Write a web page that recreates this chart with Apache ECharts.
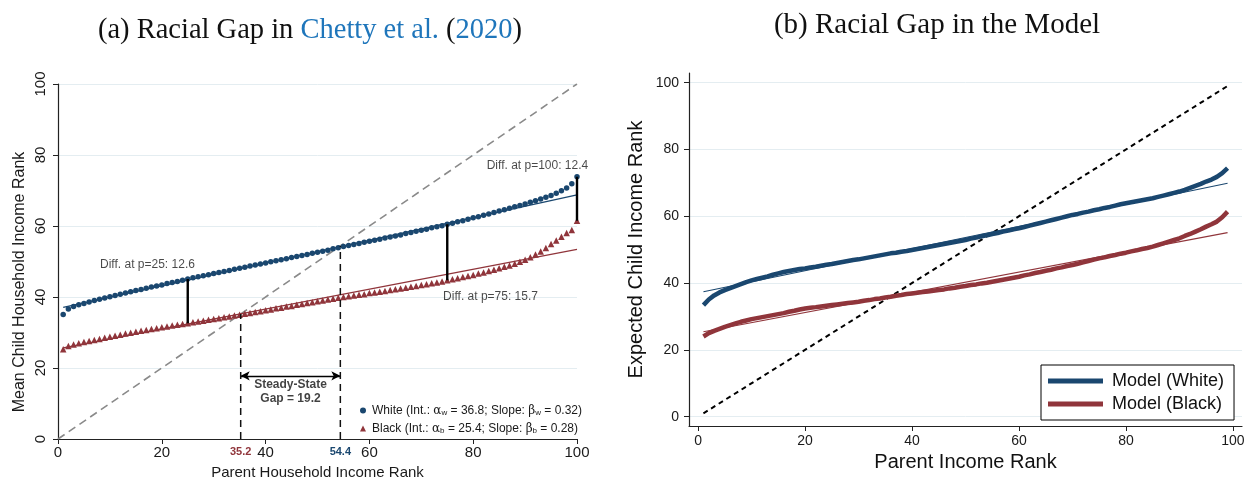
<!DOCTYPE html>
<html><head><meta charset="utf-8">
<script src="https://cdn.jsdelivr.net/npm/echarts@6/dist/echarts.min.js"></script>
<style>html,body{margin:0;padding:0;background:#fff}#c{width:1245px;height:480px}</style>
</head><body><div id="c"></div>
<script>
// ---------- Panel (a): Chetty et al. (2020) ----------
const parentRankA = [1,2,3,4,5,6,7,8,9,10,11,12,13,14,15,16,17,18,19,20,21,22,23,24,25,26,27,28,29,30,31,32,33,34,35,36,37,38,39,40,41,42,43,44,45,46,47,48,49,50,51,52,53,54,55,56,57,58,59,60,61,62,63,64,65,66,67,68,69,70,71,72,73,74,75,76,77,78,79,80,81,82,83,84,85,86,87,88,89,90,91,92,93,94,95,96,97,98,99,100];
const whiteA = [35.1,36.6,37.3,37.8,38.2,38.6,39.0,39.4,39.7,40.1,40.4,40.8,41.1,41.5,41.8,42.1,42.5,42.8,43.1,43.4,43.8,44.1,44.4,44.7,45.1,45.4,45.7,46.0,46.3,46.6,46.9,47.2,47.5,47.8,48.1,48.4,48.7,49.0,49.3,49.6,49.9,50.2,50.5,50.8,51.1,51.4,51.7,52.0,52.3,52.6,52.9,53.2,53.6,53.9,54.2,54.5,54.8,55.1,55.4,55.7,56.0,56.3,56.6,56.9,57.2,57.5,57.9,58.2,58.5,58.8,59.1,59.5,59.8,60.1,60.5,60.8,61.2,61.5,61.9,62.3,62.6,63.0,63.4,63.8,64.2,64.6,65.0,65.4,65.8,66.2,66.7,67.1,67.6,68.1,68.6,69.2,69.9,70.7,71.9,73.9];
const blackA = [25.3,26.2,26.6,27.0,27.3,27.6,27.9,28.2,28.5,28.8,29.1,29.4,29.7,29.9,30.2,30.5,30.7,31.0,31.2,31.5,31.7,32.0,32.2,32.4,32.6,32.9,33.1,33.3,33.6,33.8,34.0,34.3,34.5,34.8,35.0,35.3,35.5,35.8,36.0,36.3,36.5,36.8,37.0,37.3,37.5,37.8,38.0,38.3,38.5,38.8,39.0,39.3,39.5,39.8,40.0,40.2,40.4,40.6,40.8,41.1,41.3,41.5,41.7,42.0,42.2,42.4,42.6,42.9,43.1,43.4,43.6,43.9,44.1,44.4,44.7,45.0,45.3,45.6,45.9,46.2,46.6,46.9,47.3,47.7,48.1,48.5,48.9,49.4,49.9,50.5,51.2,52.0,52.8,53.8,54.9,55.9,57.0,58.0,58.9,61.5];
const interceptA = [36.8, 25.4];
const slopeA = [0.32, 0.28];
const fitWhiteA = [[1, 37.1], [100, 68.8]];
const fitBlackA = [[1, 25.7], [100, 53.4]];
const diagonalA = [[0, 0], [100, 100]];
const diffRanks = [25, 75, 100];
const diffLow = [32.6, 44.7, 61.5];
const diffHigh = [45.1, 60.5, 73.9];
const diffLabels = ['Diff. at p=25: 12.6', 'Diff. at p=75: 15.7', 'Diff. at p=100: 12.4'];
const diffLabelAt = [[8.1, 49.0], [74.2, 40.1], [82.6, 76.9]];
const steadyState = [35.2, 54.4];
const gapArrowY = 17.8;
const gapText = 'Steady-State\nGap = 19.2';
const gapTextAt = [44.8, 13.3];
const ticksA = [0, 20, 40, 60, 80, 100];

// ---------- Panel (b): Model ----------
const parentRankB = [1,2,3,4,5,6,7,8,9,10,11,12,13,14,15,16,17,18,19,20,21,22,23,24,25,26,27,28,29,30,31,32,33,34,35,36,37,38,39,40,41,42,43,44,45,46,47,48,49,50,51,52,53,54,55,56,57,58,59,60,61,62,63,64,65,66,67,68,69,70,71,72,73,74,75,76,77,78,79,80,81,82,83,84,85,86,87,88,89,90,91,92,93,94,95,96,97,98,99];
const whiteB = [33.4,35.1,36.3,37.2,37.9,38.5,39.1,39.7,40.3,40.8,41.2,41.6,42.0,42.5,42.9,43.3,43.6,43.9,44.2,44.4,44.7,44.9,45.2,45.5,45.7,46.0,46.3,46.6,46.9,47.1,47.4,47.7,48.0,48.3,48.6,48.9,49.1,49.4,49.6,49.9,50.2,50.5,50.8,51.1,51.4,51.7,52.0,52.3,52.6,52.9,53.3,53.6,54.0,54.3,54.7,55.0,55.4,55.7,56.1,56.4,56.8,57.2,57.6,58.0,58.4,58.8,59.2,59.6,60.0,60.4,60.7,61.1,61.4,61.8,62.1,62.5,62.8,63.2,63.6,63.9,64.2,64.5,64.8,65.1,65.4,65.8,66.2,66.6,67.0,67.4,67.9,68.5,69.1,69.7,70.4,71.0,71.8,72.9,74.4];
const blackB = [24.0,25.0,25.7,26.3,26.9,27.4,27.9,28.4,28.8,29.2,29.5,29.8,30.1,30.4,30.7,31.0,31.4,31.7,32.1,32.4,32.6,32.8,33.0,33.2,33.4,33.6,33.8,34.0,34.2,34.4,34.7,34.9,35.2,35.4,35.7,35.9,36.2,36.4,36.7,36.9,37.1,37.3,37.5,37.7,37.9,38.1,38.4,38.6,38.9,39.1,39.4,39.6,39.9,40.1,40.4,40.7,41.0,41.3,41.6,41.9,42.3,42.6,43.0,43.3,43.7,44.0,44.4,44.7,45.1,45.4,45.8,46.2,46.6,47.0,47.4,47.7,48.1,48.4,48.8,49.1,49.5,49.8,50.2,50.5,50.9,51.4,51.9,52.4,52.9,53.4,54.1,54.7,55.4,56.1,56.9,57.6,58.4,59.7,61.4];
const fitWhiteB = [[1, 37.4], [99, 69.9]];
const fitBlackB = [[1, 25.4], [99, 55.1]];
const diagonalB = [[1, 1], [99, 99]];
const ticksB = [0, 20, 40, 60, 80, 100];

// ---------- styling ----------
const NAVY = '#1a476f', MAROON = '#90353b', GRIDC = '#e4edf1', AXC = '#222';
const SANS = '"Liberation Sans", Arial, sans-serif';
const SERIF = '"Liberation Serif", "Times New Roman", serif';

const zip = (xs, ys) => xs.map((x, i) => [x, ys[i]]);

const series = [];
// Panel a
series.push({ type:'line', xAxisIndex:0, yAxisIndex:0, data: diagonalA, symbol:'none', silent:true,
  lineStyle:{ color:'#8a8a8a', width:1.6, type:[8,5] }, z:2 });
series.push({ type:'line', xAxisIndex:0, yAxisIndex:0, data: fitWhiteA, symbol:'none', silent:true,
  lineStyle:{ color:NAVY, width:1.3 }, z:3 });
series.push({ type:'line', xAxisIndex:0, yAxisIndex:0, data: fitBlackA, symbol:'none', silent:true,
  lineStyle:{ color:MAROON, width:1.3 }, z:3 });
series.push({ name:'White', type:'scatter', xAxisIndex:0, yAxisIndex:0, data: zip(parentRankA, whiteA),
  symbol:'circle', symbolSize:5.5, itemStyle:{ color:NAVY, opacity:1 }, z:4 });
series.push({ name:'Black', type:'scatter', xAxisIndex:0, yAxisIndex:0, data: zip(parentRankA, blackA),
  symbol:'triangle', symbolSize:6.5, itemStyle:{ color:MAROON, opacity:1 }, z:4 });
diffRanks.forEach((p, i) => {
  series.push({ type:'line', xAxisIndex:0, yAxisIndex:0, data: [[p, diffLow[i]], [p, diffHigh[i]]],
    symbol:'none', silent:true, lineStyle:{ color:'#000', width:2.4 }, z:5 });
});
steadyState.forEach(p => {
  series.push({ type:'line', xAxisIndex:0, yAxisIndex:0, data: [[p, 0], [p, p]],
    symbol:'none', silent:true, lineStyle:{ color:'#111', width:1.5, type:[7,5] }, z:5 });
});
series.push({ type:'line', xAxisIndex:0, yAxisIndex:0, data: [], symbol:'none', silent:true,
  markLine:{ silent:true, symbol:['arrow','arrow'], symbolSize:[7,9], label:{show:false},
    lineStyle:{ color:'#000', width:1.3, type:'solid' },
    data:[[{ coord:[steadyState[0], gapArrowY] }, { coord:[steadyState[1], gapArrowY] }]] }, z:5 });
series.push({ type:'scatter', xAxisIndex:0, yAxisIndex:0, symbolSize:0, silent:true,
  data: diffLabelAt.map((c, i) => ({ value:c, name:diffLabels[i] })),
  label:{ show:true, position:'right', distance:0, formatter: d => d.name,
    fontFamily:SANS, fontSize:12, color:'#1a1a1a' }, z:6 });
series.push({ type:'scatter', xAxisIndex:0, yAxisIndex:0, symbolSize:0, silent:true,
  data: [{ value: gapTextAt, name: gapText }],
  label:{ show:true, position:'inside', formatter: d => d.name, align:'center',
    fontFamily:SANS, fontSize:12, fontWeight:'bold', color:'#111', lineHeight:14 }, z:6 });

// Panel b
series.push({ type:'line', xAxisIndex:2, yAxisIndex:1, data: diagonalB, symbol:'none', silent:true,
  lineStyle:{ color:'#000', width:2, type:[5,4] }, z:2 });
series.push({ name:'Model (White)', type:'line', xAxisIndex:2, yAxisIndex:1, data: zip(parentRankB, whiteB),
  symbol:'none', lineStyle:{ color:NAVY, width:4.5 }, itemStyle:{ color:NAVY }, z:3 });
series.push({ name:'Model (Black)', type:'line', xAxisIndex:2, yAxisIndex:1, data: zip(parentRankB, blackB),
  symbol:'none', lineStyle:{ color:MAROON, width:4.5 }, itemStyle:{ color:MAROON }, z:3 });
series.push({ type:'line', xAxisIndex:2, yAxisIndex:1, data: fitWhiteB, symbol:'none', silent:true,
  lineStyle:{ color:NAVY, width:1.1 }, z:4 });
series.push({ type:'line', xAxisIndex:2, yAxisIndex:1, data: fitBlackB, symbol:'none', silent:true,
  lineStyle:{ color:MAROON, width:1.1 }, z:4 });

const legendRich = {
  s: { fontFamily:SANS, fontSize:8, color:'#1a1a1a', verticalAlign:'bottom', lineHeight:13 },
  g: { fontFamily:'"DejaVu Serif", serif', fontSize:12, color:'#1a1a1a' }
};

const option = {
  animation:false,
  backgroundColor:'#fff',
  textStyle:{ fontFamily:SANS },
  title:[
    { text:'(a) Racial Gap in {l|Chetty et al.} ({l|2020})', left:305, top:11, textAlign:'center',
      textStyle:{ fontFamily:SERIF, fontSize:28.5, fontWeight:'normal', color:'#111',
        rich:{ l:{ fontFamily:SERIF, fontSize:28.5, color:'#1f76bb' } } } },
    { text:'(b) Racial Gap in the Model', left:932, top:6, textAlign:'center',
      textStyle:{ fontFamily:SERIF, fontSize:29, fontWeight:'normal', color:'#111' } }
  ],
  graphic:[
    { type:'text', x:20, y:282, rotation:Math.PI/2,
      style:{ text:'Mean Child Household Income Rank', fontFamily:SANS, fontSize:16, fill:'#1a1a1a',
        align:'center', verticalAlign:'middle' } }
  ],
  legend:[
    { data:[{ name:'White', icon:'circle' }, { name:'Black', icon:'triangle' }],
      orient:'vertical', left:360, top:404, itemWidth:6, itemHeight:6, itemGap:5, padding:0,
      selectedMode:false,
      formatter: n => n === 'White'
        ? `White (Int.: {g|α}{s|w} = ${interceptA[0]}; Slope: {g|β}{s|w} = ${slopeA[0]})`
        : `Black (Int.: {g|α}{s|b} = ${interceptA[1]}; Slope: {g|β}{s|b} = ${slopeA[1]})`,
      textStyle:{ fontFamily:SANS, fontSize:12, color:'#1a1a1a', lineHeight:13, padding:[0,0,0,1], rich: legendRich } },
    { data:[{ name:'Model (White)', icon:'rect' }, { name:'Model (Black)', icon:'rect' }],
      orient:'vertical', left:1041, top:365, itemWidth:55, itemHeight:5, itemGap:5,
      padding:[7,10,7,7], borderColor:'#000', borderWidth:1, backgroundColor:'#fff', borderRadius:0,
      selectedMode:false,
      textStyle:{ fontFamily:SANS, fontSize:18, color:'#111', padding:[0,0,0,4] } }
  ],
  grid:[
    { left:58, top:84, width:519, height:355, outerBoundsMode:'none', containLabel:false },
    { left:689, top:73, width:553, height:353, outerBoundsMode:'none', containLabel:false }
  ],
  xAxis:[
    { gridIndex:0, type:'value', min:0, max:100, interval:20,
      axisLine:{ show:true, onZero:false, lineStyle:{ color:AXC, width:1.2 } },
      axisTick:{ show:true, length:5, lineStyle:{ color:AXC } },
      axisLabel:{ fontFamily:SANS, fontSize:15, color:'#1a1a1a', margin:6, showMinLabel:true, showMaxLabel:true },
      splitLine:{ show:false },
      name:'Parent Household Income Rank', nameLocation:'middle', nameGap:26,
      nameTextStyle:{ fontFamily:SANS, fontSize:15, color:'#1a1a1a' } },
    { gridIndex:0, type:'value', min:0, max:100, position:'bottom', offset:0,
      axisLine:{ show:false }, axisTick:{ show:false }, splitLine:{ show:false },
      axisLabel:{ show:true, customValues: steadyState, margin:7,
        formatter: v => (Math.abs(v - steadyState[0]) < 0.01 ? '{r|' : '{b|') + v.toFixed(1) + '}',
        rich:{ r:{ color:MAROON, fontFamily:SANS, fontSize:11, fontWeight:'bold' },
               b:{ color:NAVY, fontFamily:SANS, fontSize:11, fontWeight:'bold' } } } },
    { gridIndex:1, type:'value', min:-1.7, max:101.7,
      axisLine:{ show:true, onZero:false, lineStyle:{ color:AXC, width:1.2 } },
      axisTick:{ show:true, length:5, customValues: ticksB, lineStyle:{ color:AXC } },
      axisLabel:{ customValues: ticksB, fontFamily:SANS, fontSize:14, color:'#1a1a1a', margin:8 },
      splitLine:{ show:false },
      name:'Parent Income Rank', nameLocation:'middle', nameGap:25,
      nameTextStyle:{ fontFamily:SANS, fontSize:20, color:'#111' } }
  ],
  yAxis:[
    { gridIndex:0, type:'value', min:0, max:100, interval:20,
      axisLine:{ show:true, onZero:false, lineStyle:{ color:AXC, width:1.2 } },
      axisTick:{ show:true, length:5, lineStyle:{ color:AXC } },
      axisLabel:{ rotate:90, fontFamily:SANS, fontSize:15, color:'#1a1a1a', margin:10, showMinLabel:true, showMaxLabel:true },
      splitLine:{ show:true, lineStyle:{ color:GRIDC, width:1 } } },
    { gridIndex:1, type:'value', min:-2.8, max:102.9,
      axisLine:{ show:true, onZero:false, lineStyle:{ color:AXC, width:1.2 } },
      axisTick:{ show:true, length:5, customValues: ticksB, lineStyle:{ color:AXC } },
      axisLabel:{ customValues: ticksB, fontFamily:SANS, fontSize:14, color:'#1a1a1a', margin:10 },
      splitLine:{ show:true, lineStyle:{ color:GRIDC, width:1 } },
      name:'Expected Child Income Rank', nameLocation:'middle', nameGap:43,
      nameTextStyle:{ fontFamily:SANS, fontSize:20, color:'#111' } }
  ],
  series
};
const chart = echarts.init(document.getElementById('c'), null, { renderer:'canvas' });
chart.setOption(option);
</script></body></html>
